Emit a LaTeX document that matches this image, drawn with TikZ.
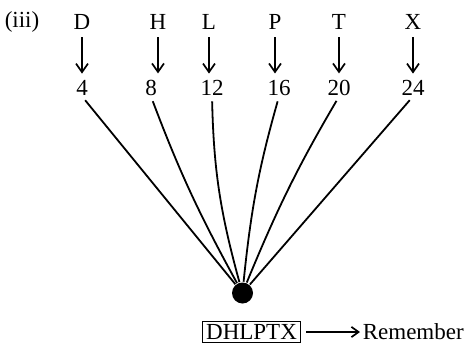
\documentclass[tikz,border=0pt]{standalone}
\usepackage{fontspec}
\setmainfont{Liberation Serif}
\usetikzlibrary{arrows.meta}

\begin{document}
\begin{tikzpicture}[
  x=1pt, y=-1pt, line width=1.6pt,
  lbl/.style={font=\fontsize{23}{26}\selectfont, inner sep=0pt},
  down/.style={-{Straight Barb[length=3mm,width=4.2mm,line width=1.7pt]}, shorten <=7pt, shorten >=6pt},
  spoke/.style={line width=1.8pt, shorten <=5pt},
]
  \useasboundingbox (0,0) rectangle (470,348);

  % Letters with their positions in the alphabet.
  \node[lbl] (iii) at (22,22) {(iii)};
  \foreach \name/\x/\nx/\num in {D/82/82/4, H/158/151/8, L/209/212/12,
                                   P/275/279/16, T/339/339/20, X/413/413/24} {
    \node[lbl] (l\name) at (\x,22) {\name};
    \node[lbl] (n\name) at (\nx,88) {\num};
    \draw[down] (l\name.south) -- (l\name.south |- n\name.north);
  }

  % All spokes meet in one dot.
  \node[circle, fill=black, minimum size=21pt, inner sep=0pt] (dot) at (242.5,293) {};
  \draw[spoke] (nD.south) -- (dot);
  \draw[spoke] (nH.south) to[bend right=4] (dot);
  \draw[spoke] (nL.south) to[bend right=7] (dot);
  \draw[spoke] (nP.south) to[bend right=5] (dot);
  \draw[spoke] (nT.south) to[bend right=4] (dot);
  \draw[spoke] (nX.south) -- (dot);

  % The word to keep.
  \node[lbl, draw, line width=1.1pt, inner xsep=4pt, inner ysep=3pt] (word) at (251.5,332) {DHLPTX};
  \node[lbl, anchor=west] (rem) at (362,332) {Remember};
  \draw[-{Straight Barb[length=2.5mm,width=3.6mm,line width=1.7pt]}, shorten <=5pt, shorten >=2pt] (word.east) -- (rem.west);
\end{tikzpicture}
\end{document}
